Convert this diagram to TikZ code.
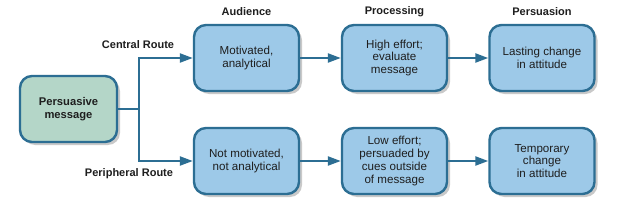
\documentclass[tikz,border=0pt]{standalone}
\usepackage{fontspec}
\setmainfont{Liberation Sans}
\usetikzlibrary{shadows,arrows.meta}
\definecolor{boxblue}{HTML}{9DC9E8}
\definecolor{boxgreen}{HTML}{B4D6C8}
\definecolor{edgeblue}{HTML}{2C6E93}
\definecolor{txt}{HTML}{1E1E1E}
\tikzset{
  stagebox/.style={draw=edgeblue, line width=2.4pt, rounded corners=12pt,
    fill=boxblue, minimum width=105pt, minimum height=66pt, align=center,
    text=txt, font=\fontsize{11.6}{12.8}\selectfont, inner sep=1pt,
    drop shadow={shadow xshift=3pt, shadow yshift=-3pt, opacity=0.35, fill=black!60}},
  msgbox/.style={stagebox, fill=boxgreen, minimum width=97pt, font=\bfseries\fontsize{11.2}{12.8}\selectfont},
  head/.style={font=\bfseries\fontsize{11}{13}\selectfont, text=txt},
  conn/.style={draw=edgeblue, line width=2.2pt, -{Triangle[length=13pt,width=9pt]}},
  connplain/.style={draw=edgeblue, line width=2.2pt}
}
\begin{document}
\begin{tikzpicture}[x=1pt,y=-1pt]
\useasboundingbox (0,0) rectangle (640,206);
\fill[white] (0,0) rectangle (640,206);
\node[msgbox] (msg) at (68.5,109) {Persuasive\\message};
\node[stagebox] (aud1) at (246.5,58) {Motivated,\\analytical};
\node[stagebox] (aud2) at (246.5,161) {Not motivated,\\not analytical};
\node[stagebox] (pro1) at (394.5,58) {High effort;\\evaluate\\message};
\node[stagebox] (pro2) at (394.5,161) {Low effort;\\persuaded by\\cues outside\\of message};
\node[stagebox] (per1) at (542,58) {Lasting change\\in attitude};
\node[stagebox] (per2) at (542,161) {Temporary\\change\\in attitude};
\node[head] (h1) at (246.5,12) {Audience};
\node[head] (h2) at (394.5,12) {Processing};
\node[head] (h3) at (542,12) {Persuasion};
\node[head] (cr) at (138,45) {Central Route};
\node[head] (pr) at (129,174) {Peripheral Route};
\coordinate (split) at (139,109);
\draw[connplain] (msg.east) -- (split);
\draw[conn] (split) |- (aud1.west);
\draw[conn] (split) |- (aud2.west);
\draw[conn] (aud1) -- (pro1);
\draw[conn] (aud2) -- (pro2);
\draw[conn] (pro1) -- (per1);
\draw[conn] (pro2) -- (per2);
\end{tikzpicture}
\end{document}
